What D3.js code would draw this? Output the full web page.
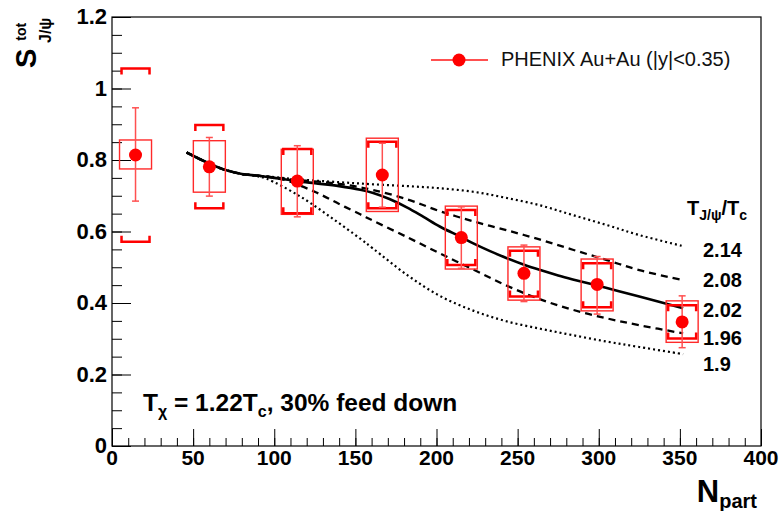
<!DOCTYPE html>
<html lang="en">
<head>
<meta charset="utf-8">
<title>S_J/psi vs Npart</title>
<script src="https://cdnjs.cloudflare.com/ajax/libs/d3/7.8.5/d3.min.js"></script>
<style>
  body { margin: 0; background: #fff; }
  svg { display: block; }
</style>
</head>
<body>
<div id="chart"></div>
<script>
// PHENIX data points
var npart   = [14.5, 60.0, 114.2, 166.6, 215.3, 253.9, 299.0, 351.4];
var sVal    = [0.814, 0.781, 0.741, 0.758, 0.583, 0.483, 0.452, 0.347];
var statLo  = [0.685, 0.699, 0.641, 0.668, 0.497, 0.404, 0.369, 0.275];
var statHi  = [0.946, 0.863, 0.840, 0.847, 0.669, 0.562, 0.530, 0.420];
var boxLo   = [0.775, 0.710, 0.648, 0.656, 0.495, 0.408, 0.378, 0.290];
var boxHi   = [0.856, 0.854, 0.830, 0.861, 0.671, 0.557, 0.523, 0.406];
var brkLo   = [0.571, 0.665, 0.651, 0.665, 0.506, 0.418, 0.388, 0.301];
var brkHi   = [1.056, 0.898, 0.831, 0.851, 0.660, 0.546, 0.511, 0.394];

// model curves, one per T_J/psi / T_c
var curveLabels = ["2.14", "2.08", "2.02", "1.96", "1.9"];
var curveN = [
  [46, 60, 70, 80, 90, 100, 114, 140, 161, 182, 202, 223, 243, 264, 284, 305, 325, 352],
  [46, 60, 70, 80, 90, 100, 114, 130, 145, 161, 182, 202, 223, 243, 264, 284, 305, 325, 352],
  [46, 60, 70, 80, 90, 100, 114, 125, 140, 153, 161, 171, 182, 192, 202, 215, 223, 233, 243, 254, 264, 275, 284, 305, 325, 352],
  [46, 60, 70, 80, 90, 100, 108, 126, 140, 153, 161, 182, 202, 223, 243, 264, 284, 305, 325, 352],
  [46, 60, 70, 80, 88, 95, 116, 136, 153, 161, 182, 202, 223, 243, 264, 284, 305, 325, 352]
];
var curveS = [
  [0.821, 0.790, 0.772, 0.761, 0.756, 0.752, 0.746, 0.738, 0.732, 0.727, 0.721, 0.711, 0.694, 0.673, 0.646, 0.618, 0.590, 0.559],
  [0.821, 0.790, 0.772, 0.761, 0.756, 0.751, 0.744, 0.738, 0.730, 0.716, 0.690, 0.657, 0.628, 0.604, 0.577, 0.549, 0.520, 0.492, 0.464],
  [0.821, 0.790, 0.772, 0.761, 0.756, 0.750, 0.741, 0.735, 0.727, 0.717, 0.708, 0.691, 0.667, 0.641, 0.614, 0.585, 0.566, 0.545, 0.526, 0.507, 0.492, 0.477, 0.466, 0.442, 0.418, 0.385],
  [0.821, 0.790, 0.772, 0.761, 0.756, 0.751, 0.742, 0.709, 0.677, 0.648, 0.630, 0.584, 0.539, 0.493, 0.449, 0.410, 0.381, 0.357, 0.338, 0.315],
  [0.821, 0.790, 0.772, 0.761, 0.756, 0.748, 0.698, 0.636, 0.580, 0.552, 0.478, 0.420, 0.378, 0.349, 0.328, 0.310, 0.292, 0.277, 0.257]
];
var curveDash = ["2,3", "7,5", null, "7,5", "2,3"];
var curveWidth = [2.2, 2.3, 2.6, 2.3, 2.2];

var xTicks = [0, 50, 100, 150, 200, 250, 300, 350, 400];
var yTicks = [0, 0.2, 0.4, 0.6, 0.8, 1, 1.2];

var width = 780, height = 511;
var margin = {top: 17, right: 19, bottom: 65, left: 112};
var font = "'Liberation Sans', Arial, Helvetica, sans-serif";
var fontN = "'Liberation Sans Narrow', 'Liberation Sans', Arial, sans-serif";

var svg = d3.select("#chart").append("svg")
    .attr("width", width).attr("height", height);

var x = d3.scaleLinear().domain([0, 400]).range([margin.left, width - margin.right]);
var y = d3.scaleLinear().domain([0, 1.2]).range([height - margin.bottom, margin.top]);

// frame
svg.append("rect")
    .attr("x", x(0)).attr("y", y(1.2))
    .attr("width", x(400) - x(0)).attr("height", y(0) - y(1.2))
    .attr("fill", "none").attr("stroke", "#000").attr("stroke-width", 1.2);

// minor ticks
svg.append("g").attr("transform", "translate(0," + y(0) + ")")
    .call(d3.axisTop(x).tickValues(d3.range(0, 401, 10)).tickSize(8).tickFormat(""))
    .call(function(g) { g.select(".domain").remove(); });
svg.append("g").attr("transform", "translate(" + x(0) + ",0)")
    .call(d3.axisRight(y).tickValues(d3.range(0, 1.201, 0.05)).tickSize(10).tickFormat(""))
    .call(function(g) { g.select(".domain").remove(); });

// major ticks + labels
var xAxis = svg.append("g").attr("transform", "translate(0," + y(0) + ")")
    .call(d3.axisTop(x).tickValues(xTicks).tickSize(17).tickFormat(""));
xAxis.select(".domain").remove();
var yAxis = svg.append("g").attr("transform", "translate(" + x(0) + ",0)")
    .call(d3.axisRight(y).tickValues(yTicks).tickSize(19).tickFormat(""));
yAxis.select(".domain").remove();
svg.selectAll(".tick line").attr("stroke", "#000").attr("stroke-width", 1);

svg.selectAll("text.xlab").data(xTicks).enter().append("text")
    .attr("class", "xlab")
    .attr("x", function(d) { return x(d); })
    .attr("y", y(0) + 19)
    .attr("text-anchor", "middle")
    .attr("font-family", fontN).attr("font-weight", "bold").attr("font-size", "21px")
    .text(function(d) { return d; });

svg.selectAll("text.ylab").data(yTicks).enter().append("text")
    .attr("class", "ylab")
    .attr("x", x(0) - 5)
    .attr("y", function(d) { return y(d) + 7; })
    .attr("text-anchor", "end")
    .attr("font-family", fontN).attr("font-weight", "bold").attr("font-size", "22px")
    .text(function(d) { return d; });

// axis titles
var xt = svg.append("text")
    .attr("x", 757).attr("y", 502)
    .attr("text-anchor", "end")
    .attr("font-family", fontN).attr("font-weight", "bold");
xt.append("tspan").attr("font-size", "31px").text("N");
xt.append("tspan").attr("font-size", "20px").attr("dy", 6).text("part");

// y title reads upwards: S, superscript "tot", subscript "J/psi"
var yt = svg.append("text")
    .attr("transform", "translate(36,68) rotate(-90)")
    .attr("font-family", font).attr("font-weight", "bold");
yt.append("tspan").attr("font-size", "29px").text("S");
yt.append("tspan").attr("font-size", "14px").attr("dx", 8).attr("dy", -10).text("tot");
yt.append("tspan").attr("font-size", "16px").attr("x", 25).attr("dy", 25).text("J/\u03C8");

// model curves
var line = d3.line().curve(d3.curveCatmullRom.alpha(0.5));
curveN.forEach(function(ns, k) {
    var pts = ns.map(function(n, i) { return [x(n), y(curveS[k][i])]; });
    svg.append("path")
        .attr("d", line(pts))
        .attr("fill", "none")
        .attr("stroke", "#000")
        .attr("stroke-width", curveWidth[k])
        .attr("stroke-dasharray", curveDash[k]);
});

// curve labels
var labelY = [257, 287, 317, 345, 371];
var lab = svg.append("text").attr("x", 687).attr("y", 215)
    .attr("font-family", font).attr("font-weight", "bold").attr("font-size", "20px");
lab.append("tspan").text("T");
lab.append("tspan").attr("font-size", "14px").attr("dy", 5).text("J/\u03C8");
lab.append("tspan").attr("dy", -5).text("/T");
lab.append("tspan").attr("font-size", "14px").attr("dy", 5).text("c");
svg.selectAll("text.clab").data(curveLabels).enter().append("text")
    .attr("class", "clab")
    .attr("x", 703)
    .attr("y", function(d, i) { return labelY[i]; })
    .attr("font-family", font).attr("font-weight", "bold").attr("font-size", "20px")
    .text(function(d) { return d; });

// data: boxes, brackets, stat bars, markers
var red = "#ff0000", pale = "#ff5050";
var boxW = 16, brkW = 14, leg = 6, cap = 3.5;
npart.forEach(function(n, i) {
    var cx = x(n);
    svg.append("rect")
        .attr("x", cx - boxW).attr("y", y(boxHi[i]))
        .attr("width", 2 * boxW).attr("height", y(boxLo[i]) - y(boxHi[i]))
        .attr("fill", "none").attr("stroke", "#ff2a2a").attr("stroke-width", 1.4);
    // brackets
    svg.append("path")
        .attr("d", "M" + (cx - brkW) + "," + (y(brkHi[i]) + leg) + "V" + y(brkHi[i]) + "H" + (cx + brkW) + "V" + (y(brkHi[i]) + leg))
        .attr("fill", "none").attr("stroke", red).attr("stroke-width", 2.5);
    svg.append("path")
        .attr("d", "M" + (cx - brkW) + "," + (y(brkLo[i]) - leg) + "V" + y(brkLo[i]) + "H" + (cx + brkW) + "V" + (y(brkLo[i]) - leg))
        .attr("fill", "none").attr("stroke", red).attr("stroke-width", 2.5);
    // stat error
    svg.append("line")
        .attr("x1", cx).attr("x2", cx).attr("y1", y(statLo[i])).attr("y2", y(statHi[i]))
        .attr("stroke", pale).attr("stroke-width", 1.5);
    [statLo[i], statHi[i]].forEach(function(v) {
        svg.append("line")
            .attr("x1", cx - cap).attr("x2", cx + cap).attr("y1", y(v)).attr("y2", y(v))
            .attr("stroke", pale).attr("stroke-width", 1.5);
    });
    svg.append("circle").attr("cx", cx).attr("cy", y(sVal[i])).attr("r", 6.5).attr("fill", red);
});

// legend
svg.append("line").attr("x1", 431).attr("x2", 488).attr("y1", 60).attr("y2", 60)
    .attr("stroke", pale).attr("stroke-width", 2);
svg.append("circle").attr("cx", 459).attr("cy", 60).attr("r", 6.5).attr("fill", red);
svg.append("text").attr("x", 501).attr("y", 66)
    .attr("font-family", font).attr("font-size", "20px").attr("fill", "#111")
    .text("PHENIX Au+Au (|y|<0.35)");

// annotation
var ann = svg.append("text").attr("x", 143).attr("y", 411)
    .attr("font-family", font).attr("font-weight", "bold").attr("font-size", "24.5px");
ann.append("tspan").text("T");
ann.append("tspan").attr("font-size", "16px").attr("dy", 6).text("\u03C7");
ann.append("tspan").attr("dy", -6).text(" = 1.22T");
ann.append("tspan").attr("font-size", "16px").attr("dy", 6).text("c");
ann.append("tspan").attr("dy", -6).text(", 30% feed down");
</script>
</body>
</html>
